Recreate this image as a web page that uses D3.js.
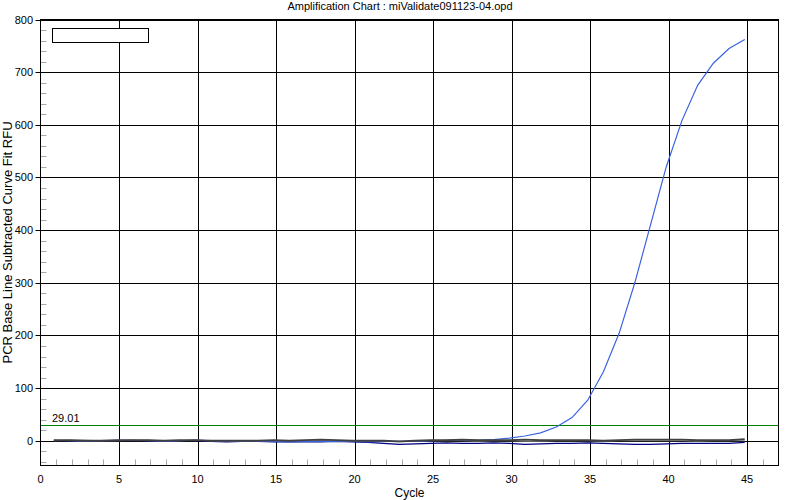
<!DOCTYPE html>
<html>
<head>
<meta charset="utf-8">
<script src="https://cdn.jsdelivr.net/npm/d3@7/dist/d3.min.js"></script>
<style>
  html, body { margin: 0; padding: 0; background: #fff; }
  svg { display: block; font-family: "Liberation Sans", Arial, sans-serif; }
</style>
</head>
<body>
<svg id="chart" width="800" height="500"></svg>
<script>
// ---- data ----
const title = "Amplification Chart : miValidate091123-04.opd";
const xLabel = "Cycle";
const yLabel = "PCR Base Line Subtracted Curve Fit RFU";
const cycles = d3.range(1, 46);
const xTicks = [0, 5, 10, 15, 20, 25, 30, 35, 40, 45];
const yTicks = [0, 100, 200, 300, 400, 500, 600, 700, 800];
const threshold = 29.01;
const thresholdLabel = "29.01";

const sampleAmplified = [1, 0, -1, 0, 1, 1, 0, -1, 0, 1, 0, -1, -1, -1, -1, -2, -1, -1, -1, -1,
  -2, -1, -1, -1, 0, 1, 1, 1, 2, 5, 9, 15, 26, 44, 77, 131, 204, 300, 410, 520,
  608, 675, 717, 745, 762];
const sampleNavy = [0, 0, 0, -1, 0, 0, 0, -1, 0, 0, -1, -2, -1, -1, -2, -2, -2, -2, -1, -2,
  -3, -5, -7, -6, -5, -4, -5, -5, -4, -5, -7, -6, -5, -5, -4, -5, -6, -7, -7, -6,
  -5, -5, -5, -5, -3];
const sampleDark = [1, 1, 0, 0, 1, 1, 1, 0, 1, 1, 0, 0, 0, 0, 1, 0, 1, 2, 1, 0,
  0, 0, -1, 0, 1, 1, 2, 1, 1, 1, 2, 1, 1, 1, 1, 0, 1, 2, 2, 2,
  2, 1, 1, 1, 3];
const sampleGray = [0, 1, 1, 0, 0, 1, 1, 0, 0, 1, 0, 0, -1, -1, 0, -1, 0, 0, 0, -1,
  -1, -1, -2, -1, 0, 0, 0, -1, 0, 0, -1, -1, 0, 0, 0, -1, 0, 0, 0, 0,
  0, -1, 0, 0, 0];

// ---- layout ----
const svg = d3.select("#chart");
const L = 40.5, R = 778.5, T = 19.5, B = 465.5;
const x = d3.scaleLinear().domain([0, 47]).range([L, R]);
const y = d3.scaleLinear().domain([-47, 800]).range([B, T]);
const cycleOffset = -0.15;

svg.append("defs").append("clipPath").attr("id", "clip")
  .append("rect").attr("x", L).attr("y", T).attr("width", R - L).attr("height", B - T);

// title
svg.append("text").attr("x", 400).attr("y", 10).attr("text-anchor", "middle")
  .attr("font-size", 11).attr("fill", "#000").text(title);

// minor ticks y (every 20)
const yMinor = d3.range(-40, 801, 20).filter(v => v % 100 !== 0);
svg.append("g").selectAll("line").data(yMinor).join("line")
  .attr("x1", L).attr("x2", L + 6)
  .attr("y1", d => Math.round(y(d)) + 0.5).attr("y2", d => Math.round(y(d)) + 0.5)
  .attr("stroke", "#a8a8a8").attr("stroke-width", 1);

// minor ticks x (every cycle)
const xMinor = d3.range(1, 47).filter(v => v % 5 !== 0);
svg.append("g").selectAll("line").data(xMinor).join("line")
  .attr("x1", d => Math.round(x(d)) + 0.5).attr("x2", d => Math.round(x(d)) + 0.5)
  .attr("y1", B - 6).attr("y2", B)
  .attr("stroke", "#a8a8a8").attr("stroke-width", 1);

// gridlines
svg.append("g").selectAll("line").data(yTicks).join("line")
  .attr("x1", L - 5).attr("x2", R)
  .attr("y1", d => Math.round(y(d)) + 0.5).attr("y2", d => Math.round(y(d)) + 0.5)
  .attr("stroke", "#000").attr("stroke-width", 1);
svg.append("g").selectAll("line").data(xTicks.filter(d => d > 0)).join("line")
  .attr("x1", d => Math.round(x(d)) + 0.5).attr("x2", d => Math.round(x(d)) + 0.5)
  .attr("y1", T).attr("y2", B)
  .attr("stroke", "#000").attr("stroke-width", 1);

// threshold
svg.append("line").attr("x1", L).attr("x2", R)
  .attr("y1", Math.round(y(threshold)) + 0.5).attr("y2", Math.round(y(threshold)) + 0.5)
  .attr("stroke", "#008000").attr("stroke-width", 1);
svg.append("text").attr("x", 52).attr("y", y(threshold) - 3.5)
  .attr("font-size", 11).attr("fill", "#000").text(thresholdLabel);

// data lines
const line = d3.line().x((d, i) => x(cycles[i] + cycleOffset)).y(d => y(d));
const g = svg.append("g").attr("clip-path", "url(#clip)");
const series = [
  { values: sampleNavy, color: "#000080", w: 1.2 },
  { values: sampleGray, color: "#808080", w: 1 },
  { values: sampleAmplified, color: "#3a63e0", w: 1.2 },
  { values: sampleDark, color: "#404040", w: 1.8 }
];
series.forEach(s => {
  g.append("path").datum(s.values).attr("d", line)
    .attr("fill", "none").attr("stroke", s.color).attr("stroke-width", s.w);
});

// frame
svg.append("rect").attr("x", L).attr("y", T).attr("width", R - L).attr("height", B - T)
  .attr("fill", "none").attr("stroke", "#000").attr("stroke-width", 1);

// legend box (empty)
svg.append("rect").attr("x", 52.5).attr("y", 28.5).attr("width", 96).attr("height", 14)
  .attr("fill", "#fff").attr("stroke", "#000").attr("stroke-width", 1);

// tick labels
svg.append("g").selectAll("text").data(yTicks).join("text")
  .attr("x", 33).attr("y", d => y(d) + 4).attr("text-anchor", "end")
  .attr("font-size", 11).attr("fill", "#000").text(d => d);
svg.append("g").selectAll("text").data(xTicks).join("text")
  .attr("x", d => x(d)).attr("y", 483).attr("text-anchor", "middle")
  .attr("font-size", 11).attr("fill", "#000").text(d => d);

// axis titles
svg.append("text").attr("x", (L + R) / 2).attr("y", 497).attr("text-anchor", "middle")
  .attr("font-size", 12).attr("fill", "#000").text(xLabel);
svg.append("text").attr("transform", `translate(12, ${(T + B) / 2}) rotate(-90)`)
  .attr("text-anchor", "middle").attr("font-size", 13).attr("fill", "#000").text(yLabel);
</script>
</body>
</html>
